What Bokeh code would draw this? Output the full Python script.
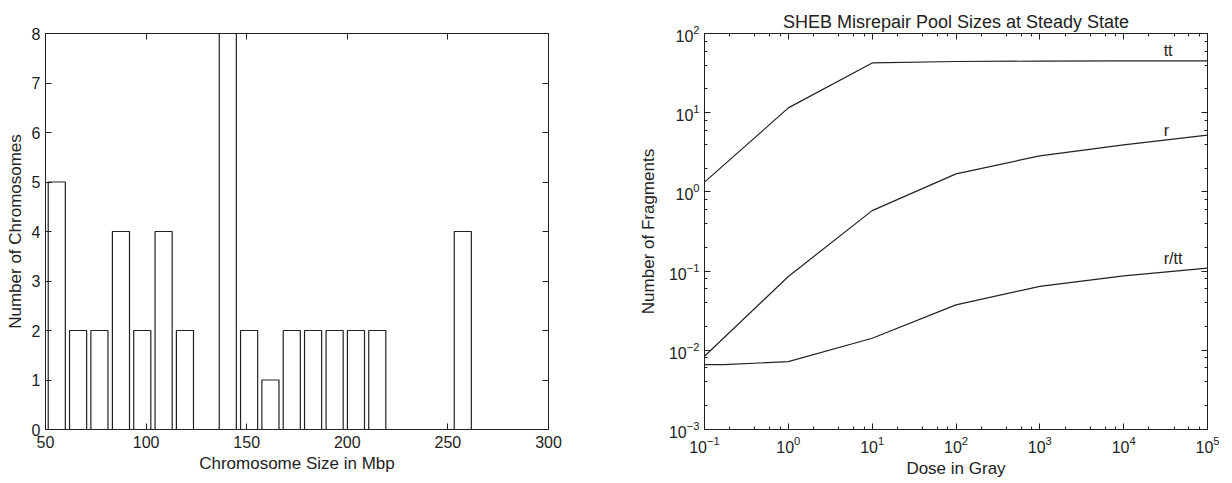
from bokeh.plotting import figure
from bokeh.layouts import row
from bokeh.models import (LinearAxis, LogAxis, Range1d, FixedTicker, LogTicker, Label,
                          CustomJSTickFormatter)
from bokeh.embed import file_html
from bokeh.resources import INLINE

# ---------------- data ----------------
# Left: histogram of chromosome sizes (bin centres in Mbp, counts)
bin_centers = [55.6, 66.2, 76.8, 87.5, 98.1, 108.7, 119.3, 129.9, 140.6, 151.2,
               161.8, 172.4, 183.0, 193.7, 204.3, 214.9, 225.5, 236.1, 246.8, 257.4]
counts = [5, 2, 2, 4, 2, 4, 2, 0, 8, 2, 1, 2, 2, 2, 2, 2, 0, 0, 0, 4]
x_ticks_left = [50, 100, 150, 200, 250, 300]
y_ticks_left = [0, 1, 2, 3, 4, 5, 6, 7, 8]

# Right: misrepair pool sizes vs dose
dose = [0.1, 1, 10, 100, 1000, 10000, 100000]
tt = [1.33, 11.5, 42.5, 44.3, 44.8, 45.0, 45.2]
r = [0.0084, 0.0855, 0.58, 1.69, 2.85, 3.93, 5.2]
dose_rtt = [0.1, 0.17, 1, 10, 100, 1000, 10000, 100000]
r_tt = [0.0066, 0.0066, 0.0072, 0.0142, 0.0375, 0.064, 0.087, 0.109]

FONT = "Liberation Sans"
TICK_FS = "16px"
LAB_FS = "17px"
TITLE_FS = "18px"
FG = "#222222"


def style_axis(ax, show_labels=True, minor=False):
    ax.axis_line_color = FG
    ax.major_tick_in = 6
    ax.major_tick_out = 0
    ax.major_tick_line_color = FG
    if minor:
        ax.minor_tick_in = 3
        ax.minor_tick_out = 0
        ax.minor_tick_line_color = FG
    else:
        ax.minor_tick_line_color = None
    ax.major_label_text_font = FONT
    ax.major_label_text_font_size = TICK_FS
    ax.major_label_text_color = FG
    ax.axis_label_text_font = FONT
    ax.axis_label_text_font_size = LAB_FS
    ax.axis_label_text_font_style = "normal"
    ax.axis_label_text_color = FG
    if not show_labels:
        ax.formatter = CustomJSTickFormatter(code="return ''")
        ax.major_label_standoff = 0


# ---------------- left figure ----------------
p1 = figure(width=616, height=483, output_backend="svg", toolbar_location=None,
            x_range=Range1d(50, 300), y_range=Range1d(0, 8),
            frame_width=503, frame_height=396,
            min_border_left=45, min_border_right=68, min_border_top=33, min_border_bottom=54)
p1.xgrid.visible = False
p1.ygrid.visible = False
p1.outline_line_color = FG
p1.background_fill_color = "white"
p1.border_fill_color = "white"

p1.vbar(x=bin_centers, top=counts, bottom=0, width=8.5,
        fill_color="white", line_color=FG, line_width=1.2)

p1.xaxis.ticker = FixedTicker(ticks=x_ticks_left)
p1.yaxis.ticker = FixedTicker(ticks=y_ticks_left)
p1.xaxis.axis_label = "Chromosome Size in Mbp"
p1.yaxis.axis_label = "Number of Chromosomes"
for ax in p1.xaxis + p1.yaxis:
    style_axis(ax)
p1.xaxis.major_label_standoff = 6
p1.xaxis.axis_label_standoff = 3
p1.yaxis.major_label_standoff = 5
p1.yaxis.axis_label_standoff = 4

top1 = LinearAxis(ticker=FixedTicker(ticks=x_ticks_left))
right1 = LinearAxis(ticker=FixedTicker(ticks=y_ticks_left))
style_axis(top1, show_labels=False)
style_axis(right1, show_labels=False)
p1.add_layout(top1, "above")
p1.add_layout(right1, "right")

# ---------------- right figure ----------------
p2 = figure(width=616, height=483, output_backend="svg", toolbar_location=None,
            x_axis_type="log", y_axis_type="log",
            x_range=Range1d(0.1, 1e5), y_range=Range1d(1e-3, 1e2),
            frame_width=503, frame_height=396,
            min_border_left=88, min_border_right=25, min_border_top=33, min_border_bottom=54,
            title="SHEB Misrepair Pool Sizes at Steady State")
p2.xgrid.visible = False
p2.ygrid.visible = False
p2.outline_line_color = FG
p2.title.align = "center"
p2.title.text_font = FONT
p2.title.text_font_size = TITLE_FS
p2.title.text_font_style = "normal"
p2.title.text_color = FG
p2.title.standoff = 4

p2.line(dose, tt, line_color=FG, line_width=1.2)
p2.line(dose, r, line_color=FG, line_width=1.2)
p2.line(dose_rtt, r_tt, line_color=FG, line_width=1.2)

for txt, yy in [("tt", 61), ("r", 6.0), ("r/tt", 0.145)]:
    p2.add_layout(Label(x=3e4, y=yy, text=txt, text_font=FONT, text_font_size=TICK_FS,
                        text_color=FG, text_baseline="middle", text_align="left"))

p2.xaxis.ticker = LogTicker(desired_num_ticks=7)
p2.yaxis.ticker = LogTicker(desired_num_ticks=6)
p2.xaxis.axis_label = "Dose in Gray"
p2.yaxis.axis_label = "Number of Fragments"
for ax in p2.xaxis + p2.yaxis:
    style_axis(ax, minor=True)
p2.xaxis.major_label_standoff = 6
p2.xaxis.axis_label_standoff = 3
p2.yaxis.major_label_standoff = 5
p2.yaxis.axis_label_standoff = 8

top2 = LogAxis(ticker=LogTicker(desired_num_ticks=7))
right2 = LogAxis(ticker=LogTicker(desired_num_ticks=6))
style_axis(top2, show_labels=False, minor=True)
style_axis(right2, show_labels=False, minor=True)
p2.add_layout(top2, "above")
p2.add_layout(right2, "right")

layout = row(p1, p2)
open("out.html", "w").write(file_html(layout, INLINE))
